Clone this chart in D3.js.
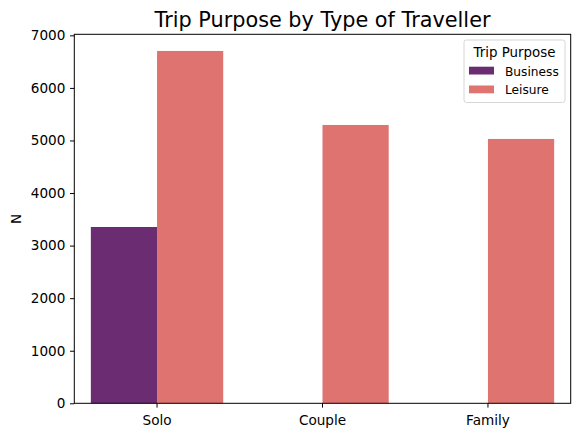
<!DOCTYPE html>
<html>
<head>
<meta charset="utf-8">
<script src="https://cdn.jsdelivr.net/npm/d3@7"></script>
<style>
  body { margin: 0; background: #fff; }
  svg text { font-family: "DejaVu Sans", sans-serif; fill: #000; }
</style>
</head>
<body>
<svg id="chart" width="580" height="437"></svg>
<script>
var travellers = ["Solo", "Couple", "Family"],
    purposes = ["Business", "Leisure"],
    business = [3354, 0, 0],
    leisure = [6703, 5295, 5029],
    yTicks = [0, 1000, 2000, 3000, 4000, 5000, 6000, 7000],
    colors = ["#6b2c71", "#df7370"];

var margin = {left: 74.3, right: 9.3, top: 34.3, bottom: 33.7},
    width = 580 - margin.left - margin.right,
    height = 437 - margin.top - margin.bottom;

var svg = d3.select("#chart"),
    g = svg.append("g").attr("transform", "translate(" + margin.left + "," + margin.top + ")");

var x = d3.scaleBand().domain(travellers).range([0, width]).paddingInner(0.2).paddingOuter(0.1),
    xh = d3.scaleBand().domain(purposes).range([0, x.bandwidth()]),
    y = d3.scaleLinear().domain([0, 7020]).range([height, 0]);

var rows = [];
travellers.forEach(function(t, i) {
  if (business[i] > 0) rows.push({t: t, p: "Business", v: business[i]});
  if (leisure[i] > 0) rows.push({t: t, p: "Leisure", v: leisure[i]});
});

g.selectAll("rect.bar")
  .data(rows)
  .enter().append("rect")
    .attr("class", "bar")
    .attr("x", function(d) { return x(d.t) + xh(d.p); })
    .attr("width", xh.bandwidth())
    .attr("y", function(d) { return y(d.v); })
    .attr("height", function(d) { return height - y(d.v); })
    .attr("fill", function(d) { return colors[purposes.indexOf(d.p)]; });

var xAxis = g.append("g")
    .attr("transform", "translate(0," + height + ")")
    .call(d3.axisBottom(x).tickSize(4.3).tickPadding(7.8));
var yAxis = g.append("g")
    .call(d3.axisLeft(y).tickValues(yTicks).tickFormat(d3.format("d")).tickSize(4.3).tickPadding(4.6));

[xAxis, yAxis].forEach(function(a) {
  a.select(".domain").remove();
  a.selectAll("text").style("font-size", "13.6px").attr("fill", "#000");
  a.selectAll("line").attr("stroke", "#000").attr("stroke-width", 1);
});

g.append("rect")
  .attr("width", width).attr("height", height)
  .attr("fill", "none").attr("stroke", "#000").attr("stroke-width", 1);

svg.append("text")
  .attr("x", margin.left + width / 2).attr("y", 26.7)
  .attr("text-anchor", "middle").style("font-size", "20.8px")
  .text("Trip Purpose by Type of Traveller");

svg.append("text")
  .attr("transform", "translate(20.7," + (margin.top + height / 2) + ") rotate(-90)")
  .attr("text-anchor", "middle").style("font-size", "13.6px")
  .text("N");

// legend
var lg = svg.append("g").attr("transform", "translate(464,40)");
lg.append("rect")
  .attr("width", 101).attr("height", 62.5).attr("rx", 2.5)
  .attr("fill", "#fff").attr("fill-opacity", 0.8)
  .attr("stroke", "#d6d6d6").attr("stroke-width", 1);
lg.append("text")
  .attr("x", 50.5).attr("y", 16.7).attr("text-anchor", "middle")
  .style("font-size", "13.4px").text("Trip Purpose");
var item = lg.selectAll("g.item")
  .data(purposes)
  .enter().append("g")
    .attr("class", "item")
    .attr("transform", function(d, i) { return "translate(0," + (i * 18.8) + ")"; });
item.append("rect")
  .attr("x", 5).attr("y", 26.7).attr("width", 25).attr("height", 7.8)
  .attr("fill", function(d, i) { return colors[i]; });
item.append("text")
  .attr("x", 41).attr("y", 35.7)
  .style("font-size", "12.2px")
  .text(function(d) { return d; });
</script>
</body>
</html>
